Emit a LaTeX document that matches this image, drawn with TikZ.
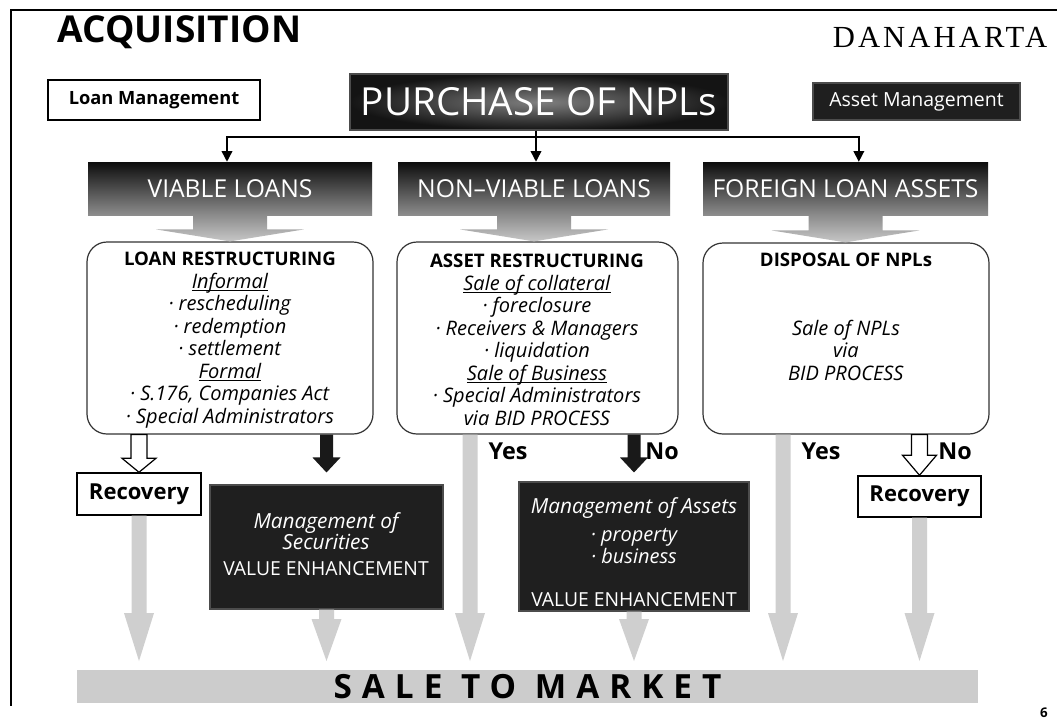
\documentclass[tikz,border=0pt]{standalone}
\usepackage{fontspec}
\setmainfont{Open Sans}
\newfontfamily\danafont[LetterSpace=10]{Liberation Serif}
\newfontfamily\widefont[LetterSpace=30]{Open Sans}
\usetikzlibrary{calc,fit,arrows.meta}

% underlined italic heading with the rule just under the baseline
\newcommand\subhead[1]{\underline{\smash{\textit{#1}}}}

% vertical block arrow: style, start, tip, shaft half-width, head half-width, head length (px)
\newcommand\blockarrow[6]{%
  \path[#1] let \p1=(#2), \p2=(#3) in
    (\x1-#4*0.75pt,\y1) -- (\x1-#4*0.75pt,\y2+#6*0.75pt) -- (\x1-#5*0.75pt,\y2+#6*0.75pt)
    -- (\x1,\y2) -- (\x1+#5*0.75pt,\y2+#6*0.75pt) -- (\x1+#4*0.75pt,\y2+#6*0.75pt)
    -- (\x1+#4*0.75pt,\y1) -- cycle;}

\begin{document}
\begin{tikzpicture}[x=0.75pt,y=-0.75pt,
  lightbox/.style={draw=black, line width=1.1pt, fill=white, inner sep=0pt},
  darkbox/.style={draw=black!70, line width=0.8pt, fill=black!88, inner sep=0pt},
  hdrbar/.style={top color=black!95, middle color=black!85, bottom color=black!45, inner sep=0pt},
  roundbox/.style={draw=black!80, line width=0.9pt, rounded corners=15pt, fill=white, inner sep=0pt},
  boxtext/.style={align=center, font=\fontsize{15}{16.9}\selectfont},
  hdrtext/.style={text=white, font=\fontsize{18.5}{20}\selectfont},
  recfont/.style={font=\bfseries\fontsize{16.5}{18}\selectfont},
  flowline/.style={line width=1.1pt, -{Triangle[length=8pt,width=8pt]}},
  widearrow/.style={top color=black!45, bottom color=black!22},
  grayarrow/.style={fill=black!19},
  openarrow/.style={draw=black, line width=0.9pt, fill=white},
  solidarrow/.style={fill=black!90},
  yesno/.style={font=\bfseries\fontsize{17.5}{19}\selectfont}
]
\useasboundingbox (0,0) rectangle (1057,725);
\fill[white] (0,0) rectangle (1057,725);

% page frame
\draw[line width=1.2pt] (1057,10) -- (11,10) -- (11,706);

% heading
\node[anchor=west, font=\fontsize{27.8}{30}\selectfont\bfseries] (title) at (53,32) {ACQUISITION};
\node[anchor=east, font=\danafont\fontsize{23}{25}\selectfont] (dana) at (1052,37) {DANAHARTA};

% top row
\node[lightbox, fit={(48,80) (260,120)},
      label={[font=\bfseries\fontsize{13.7}{15}\selectfont]center:Loan Management}] (lm) {};
\node[darkbox, inner color=black!50, outer color=black!92, fit={(350,74) (728,130)},
      label={[text=white, font=\fontsize{29}{32}\selectfont]center:PURCHASE OF NPLs}] (pur) {};
\node[darkbox, fit={(813,83) (1020,120)},
      label={[text=white, font=\fontsize{14.6}{16}\selectfont]center:Asset Management}] (am) {};

% category bars
\node[hdrbar, fit={(88,162) (372,215)}, label={[hdrtext]center:VIABLE LOANS}] (h1) {};
\node[hdrbar, fit={(398,162) (670,215)}, label={[hdrtext]center:NON--VIABLE LOANS}] (h2) {};
\node[hdrbar, fit={(703,162) (988,215)}, label={[hdrtext]center:FOREIGN LOAN ASSETS}] (h3) {};

% branching connectors
\coordinate (split) at (536,137);
\draw[flowline] (pur.south -| split) -- (split |- h2.north);
\draw[flowline] (split) -| ([xshift=-2.25pt]h1.north);
\draw[flowline] (split) -| ([xshift=10pt]h3.north);

% restructuring boxes
\node[roundbox, fit={(87,242) (373,434)}] (b1) {};
\node[roundbox, fit={(397,242) (678,434)}] (b2) {};
\node[roundbox, fit={(703,243) (989,434)}] (b3) {};

\blockarrow{widearrow}{h1.south}{b1.north}{37}{74}{12}
\blockarrow{widearrow}{h2.south}{b2.north}{37}{74}{12}
\blockarrow{widearrow}{h3.south}{b3.north}{37}{74}{12}

\node[boxtext] (t1) at (230,340) {\textbf{\fontsize{14}{16.9}\selectfont LOAN RESTRUCTURING}\\
  \subhead{Informal}\\ \textit{· rescheduling}\\ \textit{· redemption}\\
  \textit{· settlement}\\ \subhead{Formal}\\ \textit{· S.176, Companies Act}\\
  \textit{· Special Administrators}};
\node[boxtext] (t2) at (537,340) {\textbf{\fontsize{14}{16.9}\selectfont ASSET RESTRUCTURING}\\
  \subhead{Sale of collateral}\\ \textit{· foreclosure}\\ \textit{· Receivers \& Managers}\\
  \textit{· liquidation}\\ \subhead{Sale of Business}\\ \textit{· Special Administrators}\\
  \textit{via BID PROCESS}};
\node[boxtext, font=\bfseries\fontsize{14}{16.9}\selectfont] (t3a) at (846,260) {DISPOSAL OF NPLs};
\node[boxtext] (t3b) at (846,350) {\textit{Sale of NPLs}\\ \textit{via}\\ \textit{BID PROCESS}};

% outcome boxes
\node[lightbox, fit={(77,473) (201,515)}, label={[recfont]center:Recovery}] (rec1) {};
\node[lightbox, fit={(858,476) (981,517)}, label={[recfont]center:Recovery}] (rec2) {};
\node[darkbox, fit={(210,485) (443,609)}] (ms) {};
\node[darkbox, fit={(519,482) (749,611)}] (ma) {};

\node[align=center, text=white, font=\itshape\fontsize{15.6}{14}\selectfont] (mst) at (326,531)
  {Management of\\ Securities};
\node[text=white, font=\fontsize{14.5}{16}\selectfont] (msv) at (326,569) {VALUE ENHANCEMENT};
\node[text=white, font=\itshape\fontsize{15.6}{17}\selectfont] (mat) at (634,508) {Management of Assets};
\node[align=center, text=white, font=\itshape\fontsize{15}{13}\selectfont] (mab) at (634,546)
  {· property\\ · business};
\node[text=white, font=\fontsize{14.5}{16}\selectfont] (mav) at (634,600) {VALUE ENHANCEMENT};

% decision arrows
\blockarrow{openarrow}{rec1.north |- b1.south}{rec1.north}{8}{17}{14}
\blockarrow{solidarrow}{ms.north |- b1.south}{[yshift=9pt]ms.north}{6.5}{14}{15}
\blockarrow{solidarrow}{ma.north |- b2.south}{[yshift=6.75pt]ma.north}{6.5}{14}{15}
\blockarrow{openarrow}{rec2.north |- b3.south}{rec2.north}{8}{17}{20}

\node[yesno] (yes2) at (508,451) {Yes};
\node[yesno] (no2) at (662,451) {No};
\node[yesno] (yes3) at (821,451) {Yes};
\node[yesno] (no3) at (955,451) {No};

% market bar
\node[fill=black!20, fit={(77,670) (978,703)}, inner sep=0pt,
      label={[font=\widefont\bfseries\fontsize{25}{27}\selectfont]center:SALE TO MARKET}] (sale) {};

% flows into the market
\coordinate (m1) at (139,661);
\coordinate (m2) at (326,661);
\coordinate (m3) at (470,661);
\coordinate (m4) at (634,661);
\coordinate (m5) at (783,661);
\coordinate (m6) at (920,661);
\blockarrow{grayarrow}{rec1.south}{m1}{7.5}{15}{48}
\blockarrow{grayarrow}{ms.south}{m2}{7.5}{15}{42}
\blockarrow{grayarrow}{m3 |- b2.south}{m3}{7.5}{15}{48}
\blockarrow{grayarrow}{ma.south}{m4}{7.5}{15}{42}
\blockarrow{grayarrow}{m5 |- b3.south}{m5}{7.5}{15}{48}
\blockarrow{grayarrow}{rec2.south}{m6}{7.5}{15}{48}

\node[font=\bfseries\fontsize{10}{12}\selectfont] (pg) at (1044,713) {6};
\end{tikzpicture}
\end{document}
